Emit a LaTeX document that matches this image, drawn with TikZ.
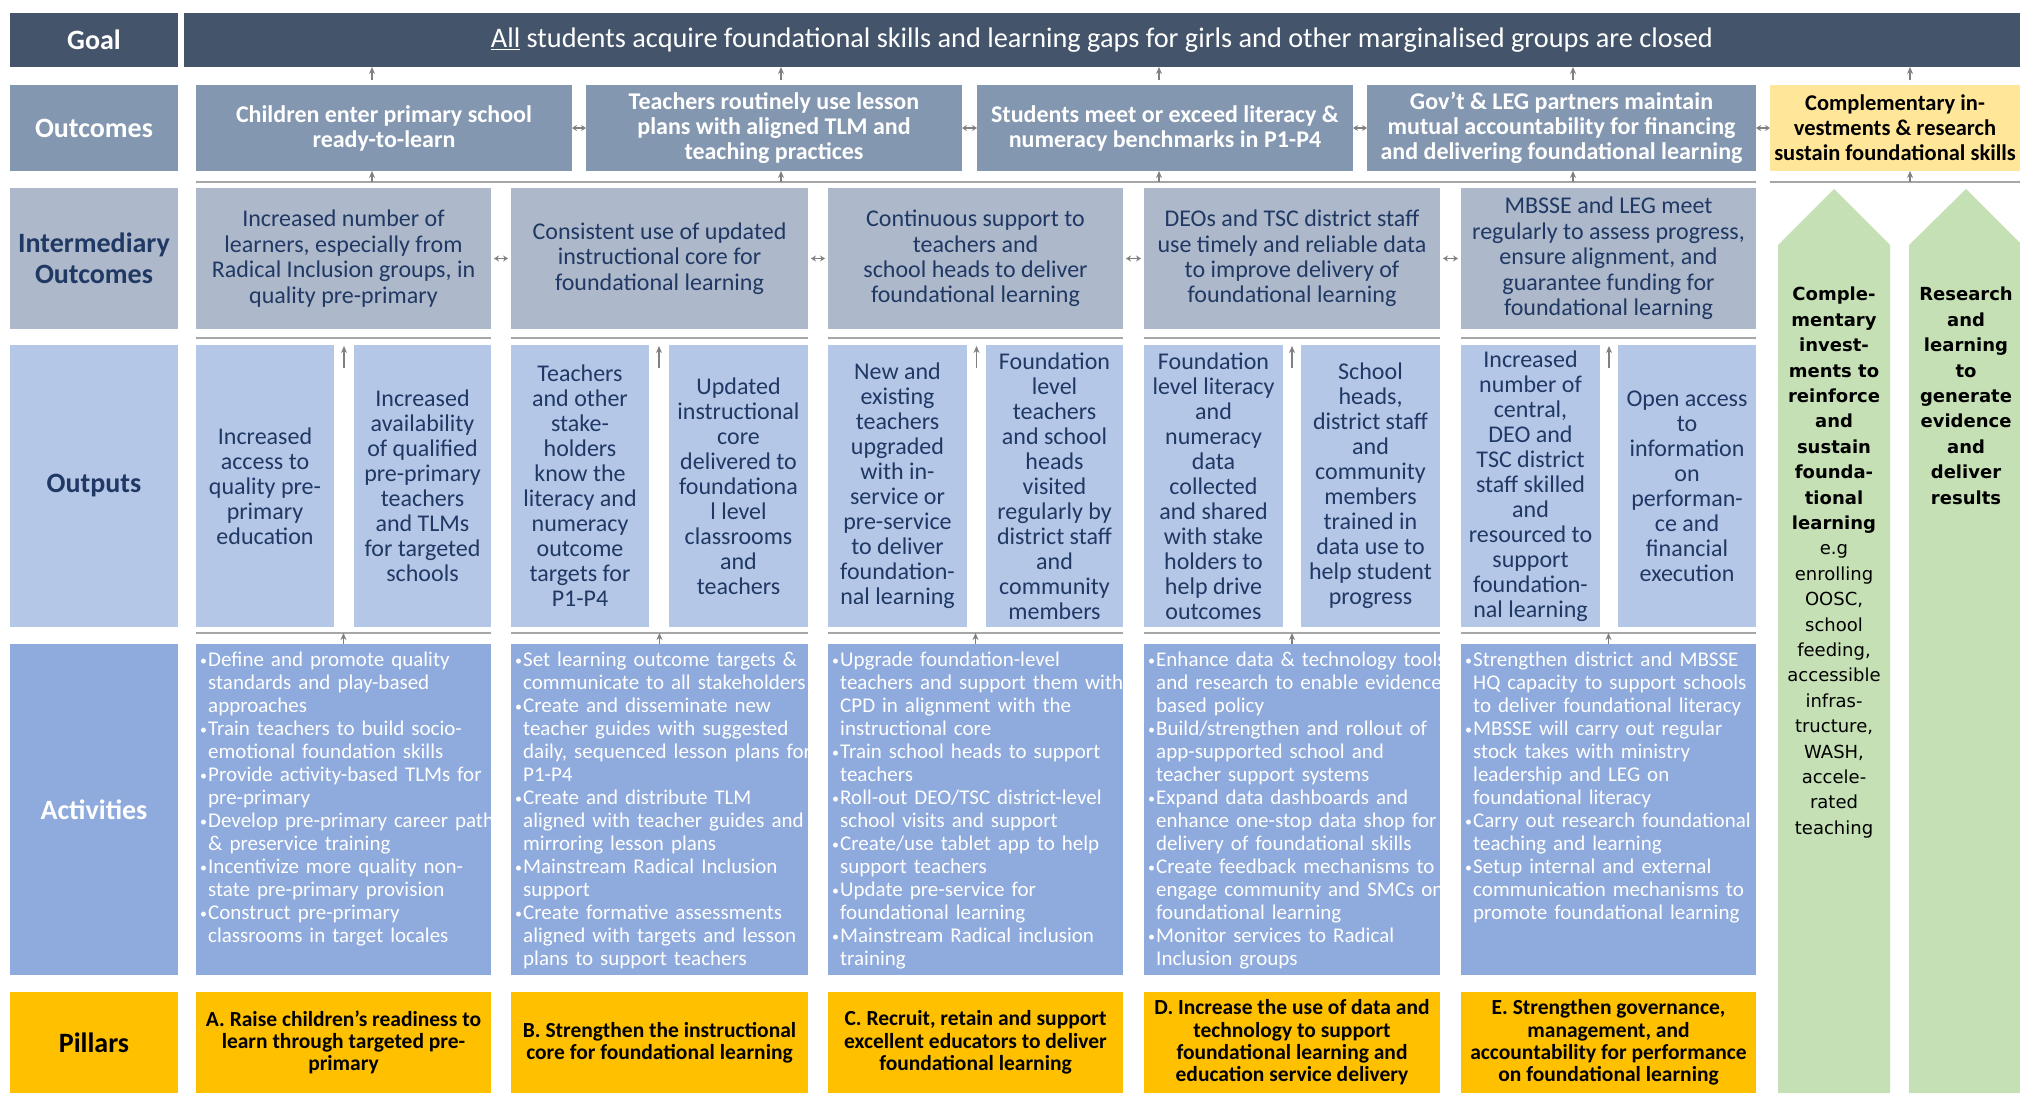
\documentclass[tikz,border=0pt]{standalone}
\usepackage{fontspec}
\setmainfont{Carlito}
\newfontfamily\vfont{DejaVu Sans}
\usetikzlibrary{calc,arrows.meta}
\definecolor{cgoal}{HTML}{44546A}
\definecolor{cout}{HTML}{8497B0}
\definecolor{cio}{HTML}{ADB9CA}
\definecolor{coutp}{HTML}{B4C7E7}
\definecolor{cact}{HTML}{8FAADC}
\definecolor{cpil}{HTML}{FFC000}
\definecolor{cyel}{HTML}{FFE699}
\definecolor{cgrn}{HTML}{C5E0B4}
\definecolor{cnavy}{HTML}{203864}
\definecolor{cline}{HTML}{A6A6A6}
\definecolor{carr}{HTML}{808080}
\newcommand\bx[7]{\node[#6, minimum width={(#4-#2)*1pt}, minimum height={(#5-#3)*1pt}] (#1) at ({(#2+#4)/2},{(#3+#5)/2}) {#7};}
\newcommand\nl{\newline}
\newcommand\itm[1]{\noindent\hangindent=8pt\hangafter=1\makebox[8pt][l]{\raisebox{1.5pt}{\fontsize{14}{14}\selectfont\textbullet}}#1\par}
\tikzset{
  box/.style={inner sep=0pt, outer sep=0pt, align=center, draw=none},
  lbl/.style={box, font=\fontsize{28}{31}\selectfont\bfseries},
  goalst/.style={box, fill=cgoal, text=white, font=\fontsize{28.3}{30}\selectfont},
  outst/.style={box, fill=cout, text=white, font=\fontsize{24}{25}\selectfont\bfseries},
  yelst/.style={box, fill=cyel, text=black, font=\fontsize{22.5}{25}\selectfont\bfseries},
  iost/.style={box, fill=cio, text=cnavy, font=\fontsize{24}{25.4}\selectfont},
  opst/.style={box, fill=coutp, text=cnavy, font=\fontsize{24}{25}\selectfont},
  actst/.style={box, fill=cact},
  acttxt/.style={anchor=north west, inner sep=0pt, text width=305pt, align=left, text=white, font=\fontsize{21}{23}\selectfont},
  pilst/.style={box, fill=cpil, text=black, font=\fontsize{21.5}{22.3}\selectfont\bfseries},
  sepline/.style={draw=cline, line width=2.5pt},
  uparr/.style={draw=carr, line width=1.5pt, -{Stealth[length=7pt,width=6pt]}},
  dblarr/.style={draw=carr, line width=1.5pt, {Stealth[length=5pt,width=6pt]}-{Stealth[length=5pt,width=6pt]}},
  grn/.style={fill=cgrn, draw=none},
  grntxt/.style={align=center, inner sep=0pt, anchor=north, font=\vfont\fontsize{18}{25.4}\selectfont}
}
\begin{document}
\begin{tikzpicture}[x=1pt,y=-1pt]
\useasboundingbox (0,0) rectangle (2020,1093);
\fill[white] (0,0) rectangle (2020,1093);
% row labels
\bx{lgoal}{10}{13}{178}{67}{lbl,fill=cgoal,text=white}{Goal}
\bx{lout}{10}{85}{178}{171}{lbl,fill=cout,text=white}{Outcomes}
\bx{lio}{10}{188}{178}{329}{lbl,fill=cio,text=cnavy}{Intermediary\\Outcomes}
\bx{lop}{10}{345}{178}{627}{lbl,fill=coutp,text=cnavy}{Outputs}
\bx{lact}{10}{644}{178}{975}{lbl,fill=cact,text=white}{Activities}
\bx{lpil}{10}{992}{178}{1093}{lbl,fill=cpil,text=black}{Pillars}
% goal
\bx{goal}{184}{13}{2020}{67}{goalst}{\underline{All} students acquire foundational skills and learning gaps for girls and other marginalised groups are closed}
% outcomes
\bx{o1}{196}{85}{572}{171}{outst}{Children enter primary school\\ready-to-learn}
\bx{o2}{586}{85}{962}{171}{outst}{Teachers routinely use lesson\\plans with aligned TLM and\\teaching practices}
\bx{o3}{977}{85}{1353}{171}{outst}{Students meet or exceed literacy \&\\numeracy benchmarks in P1-P4}
\bx{o4}{1367}{85}{1756}{171}{outst}{Gov’t \& LEG partners maintain\\mutual accountability for financing\\and delivering foundational learning}
\bx{o5}{1770}{85}{2020}{171}{yelst}{Complementary in-\\vestments \& research\\sustain foundational skills}
% intermediary outcomes
\bx{io1}{196}{188}{491}{329}{iost}{Increased number of\\learners, especially from\\Radical Inclusion groups, in\\quality pre-primary}
\bx{io2}{511}{188}{808}{329}{iost}{Consistent use of updated\\instructional core for\\foundational learning}
\bx{io3}{828}{188}{1123}{329}{iost}{Continuous support to\\teachers and\\school heads to deliver\\foundational learning}
\bx{io4}{1144}{188}{1440}{329}{iost}{DEOs and TSC district staff\\use timely and reliable data\\to improve delivery of\\foundational learning}
\bx{io5}{1461}{188}{1756}{329}{iost}{MBSSE and LEG meet\\regularly to assess progress,\\ensure alignment, and\\guarantee funding for\\foundational learning}
% outputs
\bx{p1a}{196}{345}{334}{627}{opst}{Increased\\access to\\quality pre-\\primary\\education}
\bx{p1b}{354}{345}{491}{627}{opst}{Increased\\availability\\of qualified\\pre-primary\\teachers\\and TLMs\\for targeted\\schools}
\bx{p2a}{511}{345}{649}{627}{opst}{Teachers\\and other\\stake-\\holders\\know the\\literacy and\\numeracy\\outcome\\targets for\\P1-P4}
\bx{p2b}{669}{345}{808}{627}{opst}{Updated\\instructional\\core\\delivered to\\foundationa\\l level\\classrooms\\and\\teachers}
\bx{p3a}{828}{345}{967}{627}{opst}{New and\\existing\\teachers\\upgraded\\with in-\\service or\\pre-service\\to deliver\\foundation-\\nal learning}
\bx{p3b}{986}{345}{1123}{627}{opst}{Foundation\\level\\teachers\\and school\\heads\\visited\\regularly by\\district staff\\and\\community\\members}
\bx{p4a}{1144}{345}{1283}{627}{opst}{Foundation\\level literacy\\and\\numeracy\\data\\collected\\and shared\\with stake\\holders to\\help drive\\outcomes}
\bx{p4b}{1301}{345}{1440}{627}{opst}{School\\heads,\\district staff\\and\\community\\members\\trained in\\data use to\\help student\\progress}
\bx{p5a}{1461}{345}{1600}{627}{opst}{Increased\\number of\\central,\\DEO and\\TSC district\\staff skilled\\and\\resourced to\\support\\foundation-\\nal learning}
\bx{p5b}{1618}{345}{1756}{627}{opst}{Open access\\to\\information\\on\\performan-\\ce and\\financial\\execution}
% activities
\bx{a1}{196}{644}{491}{975}{actst}{}
\bx{a2}{511}{644}{808}{975}{actst}{}
\bx{a3}{828}{644}{1123}{975}{actst}{}
\bx{a4}{1144}{644}{1440}{975}{actst}{}
\bx{a5}{1461}{644}{1756}{975}{actst}{}
\node[acttxt] (a1t) at ($(a1.north west)+(4,8)$) {%
\itm{Define and promote quality\nl standards and play-based\nl approaches}
\itm{Train teachers to build socio-\nl emotional foundation skills}
\itm{Provide activity-based TLMs for\nl pre-primary}
\itm{Develop pre-primary career path\nl \& preservice training}
\itm{Incentivize more quality non-\nl state pre-primary provision}
\itm{Construct pre-primary\nl classrooms in target locales}};
\node[acttxt] (a2t) at ($(a2.north west)+(4,8)$) {%
\itm{Set learning outcome targets \&\nl communicate to all stakeholders}
\itm{Create and disseminate new\nl teacher guides with suggested\nl daily, sequenced lesson plans for\nl P1-P4}
\itm{Create and distribute TLM\nl aligned with teacher guides and\nl mirroring lesson plans}
\itm{Mainstream Radical Inclusion\nl support}
\itm{Create formative assessments\nl aligned with targets and lesson\nl plans to support teachers}};
\node[acttxt] (a3t) at ($(a3.north west)+(4,8)$) {%
\itm{Upgrade foundation-level\nl teachers and support them with\nl CPD in alignment with the\nl instructional core}
\itm{Train school heads to support\nl teachers}
\itm{Roll-out DEO/TSC district-level\nl school visits and support}
\itm{Create/use tablet app to help\nl support teachers}
\itm{Update pre-service for\nl foundational learning}
\itm{Mainstream Radical inclusion\nl training}};
\node[acttxt] (a4t) at ($(a4.north west)+(4,8)$) {%
\itm{Enhance data \& technology tools\nl and research to enable evidence-\nl based policy}
\itm{Build/strengthen and rollout of\nl app-supported school and\nl teacher support systems}
\itm{Expand data dashboards and\nl enhance one-stop data shop for\nl delivery of foundational skills}
\itm{Create feedback mechanisms to\nl engage community and SMCs on\nl foundational learning}
\itm{Monitor services to Radical\nl Inclusion groups}};
\node[acttxt] (a5t) at ($(a5.north west)+(4,8)$) {%
\itm{Strengthen district and MBSSE\nl HQ capacity to support schools\nl to deliver foundational literacy}
\itm{MBSSE will carry out regular\nl stock takes with ministry\nl leadership and LEG on\nl foundational literacy}
\itm{Carry out research foundational\nl teaching and learning}
\itm{Setup internal and external\nl communication mechanisms to\nl promote foundational learning}};
% pillars
\bx{pa}{196}{992}{491}{1093}{pilst}{A. Raise children’s readiness to\\learn through targeted pre-\\primary}
\bx{pb}{511}{992}{808}{1093}{pilst}{B. Strengthen the instructional\\core for foundational learning}
\bx{pc}{828}{992}{1123}{1093}{pilst}{C. Recruit, retain and support\\excellent educators to deliver\\foundational learning}
\bx{pd}{1144}{992}{1440}{1093}{pilst}{D. Increase the use of data and\\technology to support\\foundational learning and\\education service delivery}
\bx{pe}{1461}{992}{1756}{1093}{pilst}{E. Strengthen governance,\\management, and\\accountability for performance\\on foundational learning}
% green arrows
\fill[grn] (1778,1093) -- (1778,245) -- (1834,189) -- (1890,245) -- (1890,1093) -- cycle;
\fill[grn] (1909,1093) -- (1909,245) -- (1966,189) -- (2020,243) -- (2020,1093) -- cycle;
\node[grntxt] (g1t) at (1834,287) {\textbf{Comple-}\\\textbf{mentary}\\\textbf{invest-}\\\textbf{ments to}\\\textbf{reinforce}\\\textbf{and}\\\textbf{sustain}\\\textbf{founda-}\\\textbf{tional}\\\textbf{learning}\\e.g\\enrolling\\OOSC,\\school\\feeding,\\accessible\\infras-\\tructure,\\WASH,\\accele-\\rated\\teaching};
\node[grntxt] (g2t) at (1966,287) {\textbf{Research}\\\textbf{and}\\\textbf{learning}\\\textbf{to}\\\textbf{generate}\\\textbf{evidence}\\\textbf{and}\\\textbf{deliver}\\\textbf{results}};
% separator lines
\coordinate (ln1) at (0,182);
\coordinate (ln2) at (0,338);
\coordinate (ln3) at (0,633);
\draw[sepline] (196,182) -- (1756,182);
\draw[sepline] (1770,182) -- (2020,182);
\foreach \n in {io1,io2,io3,io4,io5}{
  \draw[sepline] (\n.south west |- ln2) -- (\n.south east |- ln2);
}
\foreach \n in {a1,a2,a3,a4,a5}{
  \draw[sepline] (\n.north west |- ln3) -- (\n.north east |- ln3);
}
% arrow x positions
\coordinate (ax1) at (372,0);
\coordinate (ax2) at (781,0);
\coordinate (ax3) at (1159,0);
\coordinate (ax4) at (1573,0);
\coordinate (ax5) at (1910,0);
\foreach \o/\x in {o1/ax1,o2/ax2,o3/ax3,o4/ax4,o5/ax5}{
  \draw[uparr] ($(\o.north -| \x)+(0,-5)$) -- (goal.south -| \x);
  \draw[uparr] (ln1 -| \x) -- (\o.south -| \x);
}
% double arrows
\draw[dblarr] (o1.east) -- (o2.west);
\draw[dblarr] (o2.east) -- (o3.west);
\draw[dblarr] (o3.east) -- (o4.west);
\draw[dblarr] (o4.east) -- (o5.west);
\draw[dblarr, shorten <=3pt, shorten >=3pt] (io1.east) -- (io2.west);
\draw[dblarr, shorten <=3pt, shorten >=3pt] (io2.east) -- (io3.west);
\draw[dblarr, shorten <=3pt, shorten >=3pt] (io3.east) -- (io4.west);
\draw[dblarr, shorten <=3pt, shorten >=3pt] (io4.east) -- (io5.west);
% outputs and activities arrows
\foreach \l/\r/\a in {p1a/p1b/a1,p2a/p2b/a2,p3a/p3b/a3,p4a/p4b/a4,p5a/p5b/a5}{
  \draw[uparr] ($(\l.north east)!0.5!(\r.north west)+(0,23)$) -- ($(\l.north east)!0.5!(\r.north west)+(0,1)$);
  \draw[uparr] (\a.north) -- (\a.north |- ln3);
}
\end{tikzpicture}
\end{document}
